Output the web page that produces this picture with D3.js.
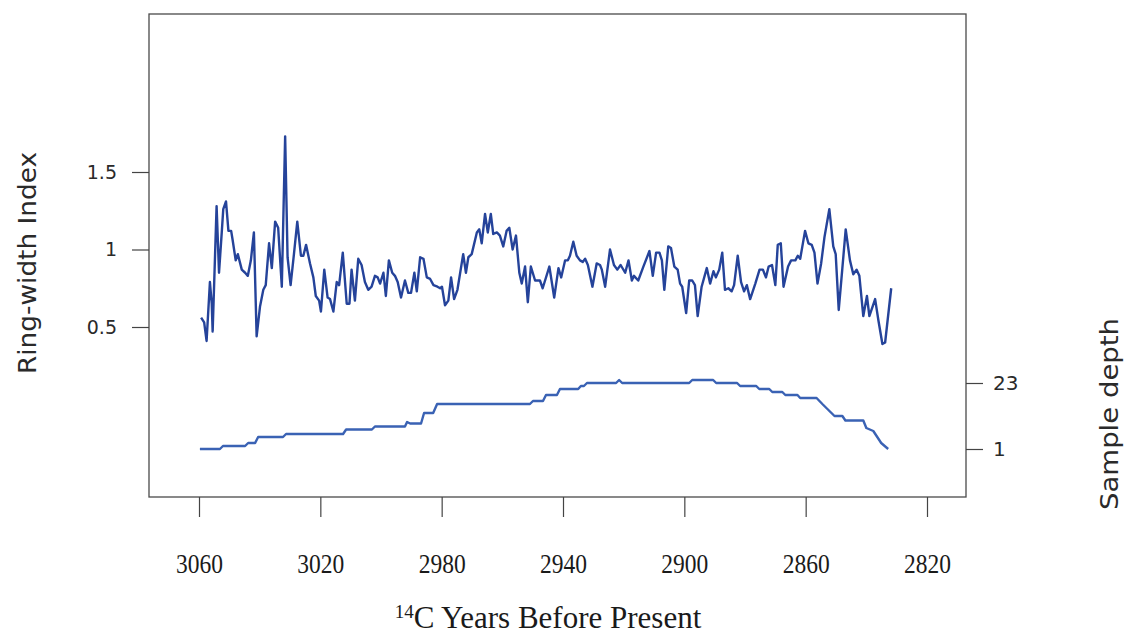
<!DOCTYPE html>
<html>
<head>
<meta charset="utf-8">
<script src="https://cdn.jsdelivr.net/npm/d3@7"></script>
<style>
  html, body { margin: 0; padding: 0; background: #ffffff; }
  svg { display: block; }
</style>
</head>
<body>
<svg id="chart" width="1126" height="634"></svg>
<script>
// ---------- data ----------
const rwYears = [
3059.3,3058.3,3057.5,3056.4,3055.8,3055.5,3054.2,3053.4,3052.5,3052.0,3051.1,3050.3,3049.4,3048.9,3047.9,3047.2,3045.9,3044.8,3043.9,3042.9,
3041.9,3041.0,3039.9,3038.8,3038.0,3036.9,3036.0,3034.9,3033.9,3032.7,3031.6,3030.8,3029.8,3028.7,3027.6,3026.4,3025.6,3024.7,3023.4,3022.3,
3021.5,3020.4,3019.8,3018.7,3017.6,3016.8,3015.7,3014.6,3013.8,3012.6,3011.3,3010.4,3009.7,3008.6,3007.5,3006.4,3005.3,3004.2,3003.1,3002.0,
3001.1,3000.3,2999.2,2998.4,2997.4,2996.3,2995.4,2994.5,2993.4,2992.1,2991.0,2990.1,2989.0,2988.2,2987.1,2986.0,2984.9,2983.8,2982.7,2981.4,
2980.5,2979.9,2978.9,2977.8,2976.9,2975.9,2974.8,2972.9,2972.0,2971.2,2970.1,2968.4,2967.6,2966.8,2965.7,2964.8,2963.8,2963.0,2961.8,2960.8,
2959.7,2958.6,2957.7,2956.6,2955.5,2954.4,2953.6,2952.5,2951.6,2950.6,2949.2,2947.6,2946.7,2944.5,2942.9,2941.5,2940.6,2939.3,2938.4,2937.7,
2936.6,2935.5,2934.4,2933.5,2932.7,2931.8,2930.3,2928.9,2927.8,2927.2,2926.1,2924.5,2923.2,2922.1,2921.0,2919.5,2918.4,2917.3,2916.6,2915.2,
2913.5,2911.5,2910.4,2909.3,2908.2,2907.4,2906.6,2905.3,2904.4,2903.3,2902.2,2901.4,2900.7,2899.4,2898.4,2897.4,2896.5,2895.6,2894.3,2892.6,
2891.5,2890.4,2889.6,2888.5,2887.5,2886.6,2885.5,2884.4,2883.6,2882.4,2881.3,2880.3,2879.4,2878.3,2876.6,2875.2,2874.1,2873.1,2872.2,2871.1,
2870.0,2869.2,2868.2,2867.3,2865.8,2864.8,2863.4,2862.6,2861.8,2860.2,2859.1,2858.0,2857.1,2856.1,2854.9,2853.8,2852.2,2850.9,2850.1,2849.1,
2847.9,2846.8,2845.4,2844.3,2843.2,2842.3,2841.0,2839.8,2839.0,2837.1,2836.0,2834.7,2833.8,2831.8
];
const rwValues = [
0.56,0.53,0.41,0.79,0.65,0.47,1.28,0.85,1.11,1.26,1.31,1.12,1.12,1.06,0.93,0.97,0.87,0.85,0.83,0.93,
1.11,0.44,0.63,0.74,0.77,1.04,0.88,1.18,1.14,0.76,1.73,0.95,0.77,0.97,1.18,0.96,0.96,1.03,0.91,0.82,
0.70,0.67,0.60,0.87,0.69,0.68,0.60,0.79,0.77,0.98,0.65,0.65,0.87,0.67,0.94,0.90,0.79,0.74,0.76,0.83,
0.82,0.78,0.85,0.70,0.93,0.85,0.83,0.79,0.69,0.80,0.72,0.72,0.85,0.73,0.95,0.94,0.82,0.81,0.77,0.76,
0.75,0.76,0.64,0.67,0.82,0.68,0.74,0.97,0.85,0.95,0.97,1.11,1.13,1.04,1.23,1.11,1.23,1.10,1.11,1.09,
1.02,1.12,1.14,1.00,1.09,0.85,0.78,0.89,0.66,0.89,0.80,0.80,0.75,0.89,0.69,0.88,0.82,0.93,0.93,0.96,
1.05,0.96,0.93,0.92,0.94,0.90,0.76,0.91,0.90,0.87,0.76,1.00,0.90,0.87,0.90,0.85,0.93,0.80,0.83,0.80,
0.89,0.99,0.83,0.98,0.98,0.93,0.74,1.02,1.01,0.89,0.87,0.78,0.76,0.59,0.80,0.80,0.77,0.57,0.76,0.88,
0.78,0.86,0.82,0.87,0.98,0.74,0.75,0.73,0.77,0.96,0.79,0.73,0.77,0.68,0.78,0.87,0.87,0.82,0.89,0.90,
0.77,1.03,1.04,0.76,0.89,0.93,0.93,0.96,0.94,1.12,1.04,1.03,0.98,0.78,0.91,1.08,1.26,1.02,0.97,0.61,
0.88,1.13,0.93,0.84,0.87,0.83,0.57,0.70,0.57,0.68,0.54,0.39,0.40,0.75
];

const depthYears = [
3059.7,3053.1,3052.1,3044.8,3043.8,3041.5,3040.5,3032.3,3031.3,3012.5,3011.5,3003.0,3002.0,2992.1,2991.4,2990.4,2986.8,2985.8,2982.8,2981.5,
2950.9,2949.9,2946.6,2945.6,2942.0,2941.0,2935.0,2934.1,2933.1,2932.1,2922.5,2921.5,2920.5,2898.4,2897.4,2890.5,2889.5,2882.6,2881.6,2876.3,
2875.3,2872.0,2871.0,2867.7,2866.7,2862.7,2861.8,2856.4,2854.5,2852.5,2850.5,2847.9,2846.9,2841.0,2840.0,2837.7,2836.4,2835.1,2832.8
];
const depthValues = [
1,1,2,2,3,3,5,5,6,6,7.5,7.5,8.5,8.5,10,9.5,9.5,13,13,16,
16,17,17,19,19,21,21,22,22,23,23,24,23,23,24,24,23,23,22,22,
21,21,20,20,19,19,18,18,16,14,12,12,10.5,10.5,8,7,5,3,1
];

const xTicks = [3060, 3020, 2980, 2940, 2900, 2860, 2820];
const leftTicks = [0.5, 1, 1.5];
const rightTicks = [1, 23];

// ---------- layout ----------
const svg = d3.select("#chart");
const box = { left: 149, top: 14, right: 966, bottom: 497 };

const x = d3.scaleLinear().domain([3060, 2820]).range([199, 927]);
const yL = d3.scaleLinear().domain([0.5, 1.5]).range([327, 172]);
const yR = d3.scaleLinear().domain([1, 23]).range([449, 383]);

svg.append("rect").attr("width", 1126).attr("height", 634).attr("fill", "#ffffff");

// plot frame
svg.append("rect")
  .attr("x", box.left).attr("y", box.top)
  .attr("width", box.right - box.left).attr("height", box.bottom - box.top)
  .attr("fill", "none").attr("stroke", "#4a4a4a").attr("stroke-width", 1.3);

// x axis
const xAxis = svg.append("g")
  .attr("transform", `translate(0,${box.bottom})`)
  .call(d3.axisBottom(x).tickValues(xTicks).tickFormat(d3.format("d")).tickSize(20).tickSizeOuter(0));
xAxis.select(".domain").remove();
xAxis.selectAll(".tick line").attr("stroke", "#444").attr("stroke-width", 1.2);
xAxis.selectAll(".tick text")
  .attr("y", 56)
  .attr("font-family", "'Liberation Serif', 'Times New Roman', serif")
  .attr("font-size", 28).attr("fill", "#1a1a1a")
  .attr("textLength", 47).attr("lengthAdjust", "spacingAndGlyphs");

// left axis
const lAxis = svg.append("g")
  .attr("transform", `translate(${box.left},0)`)
  .call(d3.axisLeft(yL).tickValues(leftTicks).tickFormat(d => d3.format("")(d)).tickSize(17).tickSizeOuter(0));
lAxis.select(".domain").remove();
lAxis.selectAll(".tick line").attr("stroke", "#444").attr("stroke-width", 1.2);
lAxis.selectAll(".tick text")
  .attr("x", -32)
  .attr("font-family", "'DejaVu Sans', sans-serif")
  .attr("font-size", 19).attr("fill", "#2a2a2a");

// right axis
const rAxis = svg.append("g")
  .attr("transform", `translate(${box.right},0)`)
  .call(d3.axisRight(yR).tickValues(rightTicks).tickFormat(d3.format("d")).tickSize(17).tickSizeOuter(0));
rAxis.select(".domain").remove();
rAxis.selectAll(".tick line").attr("stroke", "#444").attr("stroke-width", 1.2);
rAxis.selectAll(".tick text")
  .attr("x", 27)
  .attr("font-family", "'DejaVu Sans', sans-serif")
  .attr("font-size", 20).attr("fill", "#2a2a2a");

// series
const rw = rwYears.map((yr, i) => [yr, rwValues[i]]);
const dp = depthYears.map((yr, i) => [yr, depthValues[i]]);

svg.append("path")
  .datum(dp)
  .attr("fill", "none").attr("stroke", "#3a62b4").attr("stroke-width", 2.4)
  .attr("stroke-linejoin", "round")
  .attr("d", d3.line().x(d => x(d[0])).y(d => yR(d[1])));

svg.append("path")
  .datum(rw)
  .attr("fill", "none").attr("stroke", "#25439a").attr("stroke-width", 2.4)
  .attr("stroke-linejoin", "round")
  .attr("d", d3.line().x(d => x(d[0])).y(d => yL(d[1])));

// axis titles
svg.append("text")
  .attr("transform", "translate(36,263) rotate(-90)")
  .attr("text-anchor", "middle")
  .attr("font-family", "'DejaVu Sans', sans-serif")
  .attr("font-size", 24).attr("fill", "#2a2a2a")
  .attr("textLength", 222).attr("lengthAdjust", "spacingAndGlyphs")
  .text("Ring-width Index");

svg.append("text")
  .attr("transform", "translate(1118,414) rotate(-90)")
  .attr("text-anchor", "middle")
  .attr("font-family", "'DejaVu Sans', sans-serif")
  .attr("font-size", 24).attr("fill", "#2a2a2a")
  .attr("textLength", 192).attr("lengthAdjust", "spacingAndGlyphs")
  .text("Sample depth");

const xt = svg.append("text")
  .attr("x", 548).attr("y", 628)
  .attr("text-anchor", "middle")
  .attr("font-family", "'Liberation Serif', 'Times New Roman', serif")
  .attr("font-size", 31).attr("fill", "#1a1a1a");
xt.append("tspan").attr("font-size", 19).attr("dy", -10).text("14");
xt.append("tspan").attr("dy", 10).text("C Years Before Present");
</script>
</body>
</html>
